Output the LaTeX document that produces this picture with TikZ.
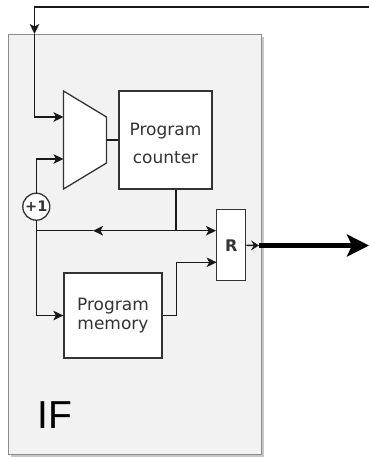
\documentclass[tikz,border=0pt]{standalone}
\usepackage{fontspec}
\setmainfont{DejaVu Sans}
\newfontfamily\iffont{Liberation Sans}
\usetikzlibrary{arrows.meta}
\begin{document}
\begin{tikzpicture}[x=1pt,y=-1pt,
  wire/.style={line width=1.4pt, draw=black!90},
  arr/.style={wire, -{Stealth[length=10pt,width=9.5pt,inset=2.5pt]}},
  unit/.style={draw=black!80, line width=1.3pt, fill=white, inner sep=0pt,
    text=black!80, align=center},
  stage/.style={draw=black!45, fill=black!5, line width=1.1pt, inner sep=0pt},
]
\useasboundingbox (0,0) rectangle (369,459);
% stage box with shadow
\fill[black!22] (10.5,36.5) rectangle (263.5,456.5);
\node[stage, minimum width=253pt, minimum height=420pt, anchor=north west] (IF) at (8,34) {};
\node[font=\iffont\fontsize{39}{39}\selectfont, anchor=base west, inner sep=0pt] (iflabel) at (37,428) {IF};

% multiplexer
\draw[unit] (63.5,91) -- (106.5,117) -- (106.5,163) -- (63.5,189) -- cycle;
\coordinate (muxin1) at (63.5,117);
\coordinate (muxin2) at (63.5,159);
\coordinate (muxout) at (106.5,140);

% units
\node[unit, minimum width=93pt, minimum height=98pt, text height=46pt, text depth=0pt, font=\fontsize{17}{28}\selectfont] (pc) at (165.5,140) {Program\\counter};
\node[unit, minimum width=98pt, minimum height=85pt, font=\fontsize{17}{18.5}\selectfont] (pm) at (113,315.5) {Program\\memory};
\node[unit, minimum width=29pt, minimum height=71pt, font=\fontsize{16}{16}\selectfont\bfseries] (R) at (231.2,245.3) {R};
\node[unit, circle, minimum size=27pt, font=\fontsize{14.5}{14.5}\selectfont\bfseries] (inc) at (36.3,206.7) {+1};

% feedback from outside
\coordinate (fbR) at (369,7);
\coordinate (fbIn) at (34.5,34);
\draw[arr] (fbR) -- (34.5,7) -- (fbIn);
\draw[arr] (fbIn) |- (muxin1);

% +1 to mux
\draw[arr] (inc.north) |- (muxin2);
\draw[wire] (muxout) -- (pc.west);

% PC output bus
\coordinate (pcJ) at (176,230.7);
\coordinate (midArr) at (93,230.7);
\coordinate (leftJ) at (36.3,230.7);
\draw[wire] (pc.south -| pcJ) -- (pcJ);
\draw[arr] (pcJ) -- (R.west |- pcJ);
\draw[arr] (pcJ) -- (midArr);
\draw[wire] (midArr) -- (leftJ);

% to program memory
\draw[arr] (inc.south) |- (pm.west);
\coordinate (rIn2) at (216.7,262.3);
\draw[arr] (pm.east) -- ++(14,0) |- (rIn2);

% output
\coordinate (outEdge) at (259,245.5);
\coordinate (outEnd) at (369,245.5);
\draw[wire, -{Stealth[length=8pt,width=10pt,inset=3pt]}] (R.east) -- (outEdge);
\draw[line width=4.5pt, -{Stealth[length=22pt,width=22pt,inset=5pt]}] (outEdge) -- (outEnd);
\end{tikzpicture}
\end{document}
